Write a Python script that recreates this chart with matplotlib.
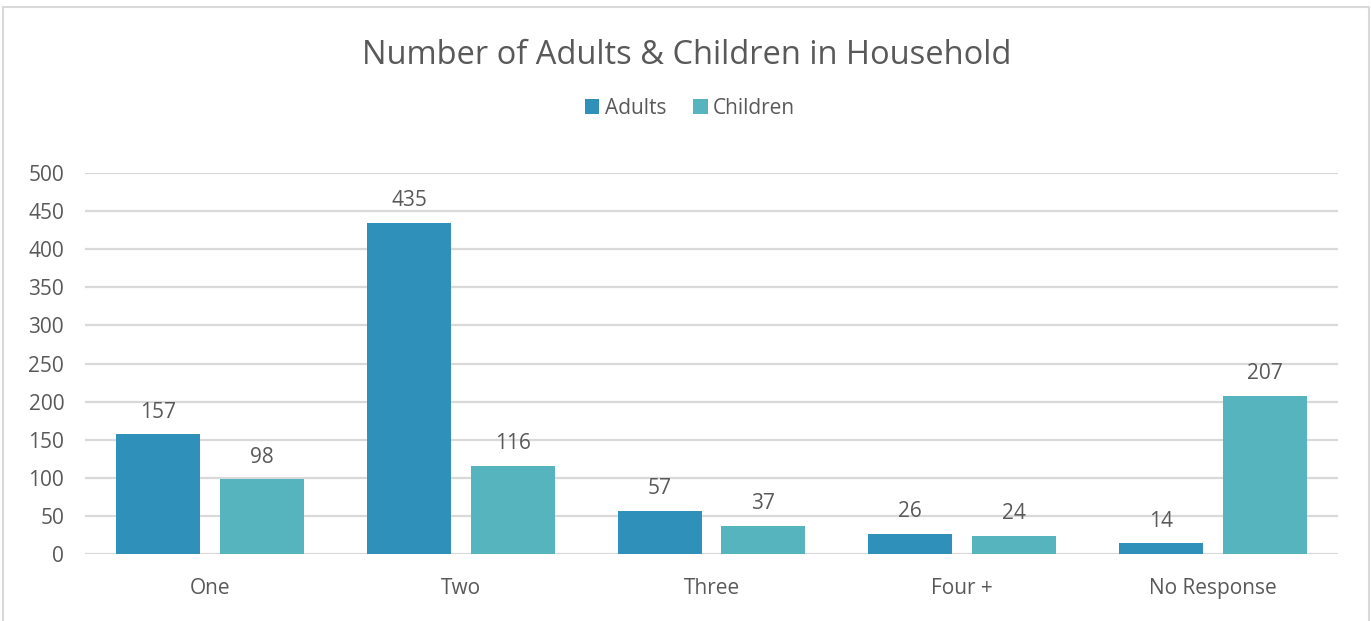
import matplotlib

matplotlib.use("Agg")
import matplotlib.pyplot as plt
import numpy as np
from matplotlib.patches import Rectangle

categories = ["One", "Two", "Three", "Four +", "No Response"]
adults = [157, 435, 57, 26, 14]
children = [98, 116, 37, 24, 207]
series_names = ["Adults", "Children"]
y_ticks = list(range(0, 501, 50))

ADULT_COLOR = "#2F90B9"
CHILD_COLOR = "#55B4BE"
TEXT_COLOR = "#595959"
GRID_COLOR = "#D9D9D9"

plt.rcParams["font.family"] = ["Open Sans", "DejaVu Sans"]

W, H = 1371, 621
fig = plt.figure(figsize=(W / 100, H / 100), dpi=100)
ax = fig.add_axes([85 / W, 1 - 554 / H, (1338 - 85) / W, (554 - 173) / H])

x = np.arange(len(categories))
width = 0.335
offset = 0.207
bars_a = ax.bar(x - offset, adults, width, color=ADULT_COLOR, label=series_names[0], zorder=3)
bars_c = ax.bar(x + offset, children, width, color=CHILD_COLOR, label=series_names[1], zorder=3)

for bars in (bars_a, bars_c):
    for rect in bars:
        ax.annotate(
            f"{int(rect.get_height())}",
            (rect.get_x() + rect.get_width() / 2, rect.get_height()),
            xytext=(0, 8.5),
            textcoords="offset points",
            ha="center",
            va="bottom",
            fontsize=15,
            color=TEXT_COLOR,
        )

ax.set_xlim(-0.5, len(categories) - 0.5)
ax.set_ylim(0, 500)
ax.set_yticks(y_ticks)
ax.set_xticks(x, categories)
ax.tick_params(axis="both", length=0, labelsize=15, colors=TEXT_COLOR)
ax.tick_params(axis="y", pad=15)
ax.tick_params(axis="x", pad=17)
ax.grid(axis="y", color=GRID_COLOR, linewidth=1.6, zorder=0)
for spine in ax.spines.values():
    spine.set_visible(False)

fig.text(687 / W, 1 - 55 / H, "Number of Adults & Children in Household",
         ha="center", va="center", fontsize=23.5, color=TEXT_COLOR)
fig.legend(
    handles=[bars_a, bars_c],
    labels=series_names,
    loc="center",
    bbox_to_anchor=(690 / W, 1 - 108 / H),
    ncol=2,
    frameon=False,
    fontsize=15,
    labelcolor=TEXT_COLOR,
    handlelength=0.7,
    handleheight=0.7,
    handletextpad=0.25,
    columnspacing=1.3,
)

fig.patches.append(
    Rectangle((3 / W, -0.1), (1369 - 3) / W, 1.1 - 7 / H,
              transform=fig.transFigure, fill=False, edgecolor="#D9D9D9", linewidth=1.5)
)

fig.savefig("out.png", dpi=100)
